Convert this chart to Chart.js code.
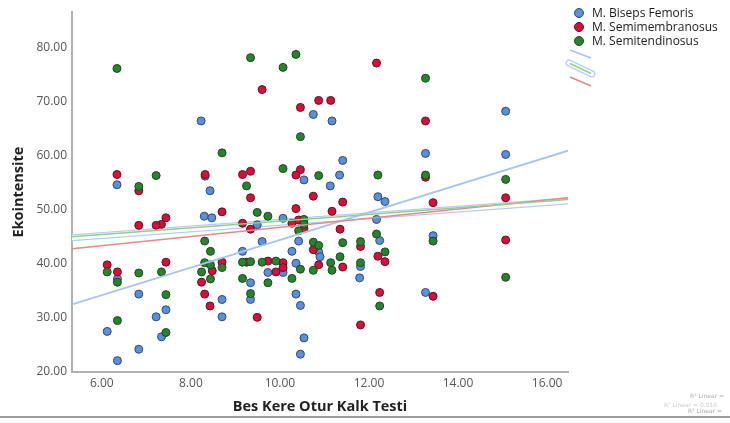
<!DOCTYPE html>
<html>
<head>
<meta charset="utf-8">
<script src="https://cdn.jsdelivr.net/npm/chart.js@4/dist/chart.umd.min.js"></script>
<style>
  body { margin: 0; background: #fff; }
  #wrap { position: relative; width: 730px; height: 416px; border-bottom: 2px solid #9c9c9c; }
  #legend { position: absolute; left: 574px; top: 6px; font: 12px "Open Sans", sans-serif; color: #1a1a1a; }
  #legend .row { height: 14px; line-height: 14px; white-space: nowrap; }
  #legend .dot { display: inline-block; width: 10px; height: 10px; border-radius: 50%; vertical-align: -1px; margin-right: 8px; box-sizing: border-box; }
  #icons { position: absolute; left: 560px; top: 44px; }
  .r2 { position: absolute; font: 6px "DejaVu Sans", sans-serif; color: #aaa; white-space: nowrap; }
</style>
</head>
<body>
<div id="wrap">
  <canvas id="chart" width="730" height="416"></canvas>
  <div id="legend"></div>
  <svg id="icons" width="40" height="48">
    <line x1="10" y1="6" x2="31" y2="14" stroke="#a9c4ec" stroke-width="1.5"/>
    <line x1="9" y1="19" x2="32" y2="30" stroke="#b7cdee" stroke-width="7" stroke-linecap="round"/>
    <line x1="9" y1="19" x2="32" y2="30" stroke="#fff" stroke-width="4.5" stroke-linecap="round"/>
    <line x1="10" y1="19.5" x2="31" y2="29.5" stroke="#8fcf8f" stroke-width="1.5"/>
    <line x1="10" y1="33" x2="31" y2="42" stroke="#e08a8a" stroke-width="1.5"/>
  </svg>
  <div class="r2" style="left:690px; top:392px;">R² Linear =</div>
  <div class="r2" style="left:664px; top:401px; color:#ccc;">R² Linear = 0.016</div>
  <div class="r2" style="left:688px; top:407px;">R² Linear =</div>
</div>
<script>
const xTicks = [6, 8, 10, 12, 14, 16];
const yTicks = [20, 30, 40, 50, 60, 70, 80];

const seriesNames = ['M. Biseps Femoris', 'M. Semimembranosus', 'M. Semitendinosus'];

// M. Biseps Femoris
const bicepsX = [8.23, 10.75, 10.54, 6.34, 8.43, 13.27, 15.07, 15.07, 11.41, 11.17, 11.34, 11.13, 8.32,
  8.30, 8.47, 10.07, 9.49, 9.60, 10.42, 9.16, 10.27, 10.87, 10.90, 6.35, 9.73, 10.07, 10.36, 9.34,
  6.83, 9.34, 8.70, 10.36, 7.44, 10.46, 7.22, 8.70, 6.12, 7.34, 6.83, 10.54, 10.46, 6.35,
  12.20, 12.36, 12.17, 12.24, 13.44, 11.81, 11.79, 13.27];
const bicepsY = [66.4, 67.6, 55.5, 54.6, 53.5, 60.4, 68.2, 60.2, 59.1, 66.4, 56.4, 54.4, 56.2,
  48.8, 48.5, 48.4, 47.2, 44.1, 44.2, 42.3, 42.3, 42.2, 41.3, 37.2, 38.4, 38.4, 40.1, 36.5,
  34.4, 33.4, 33.4, 34.4, 31.5, 32.3, 30.2, 30.2, 27.5, 26.5, 24.2, 26.3, 23.3, 22.1,
  52.4, 51.5, 48.2, 44.3, 45.2, 39.5, 37.4, 34.7];

// M. Semimembranosus
const semimemX = [9.60, 10.46, 10.87, 11.14, 12.17, 13.27, 6.34, 8.32, 9.16, 9.34, 10.46, 10.36, 6.83,
  13.27, 9.34, 10.75, 10.36, 7.44, 7.34, 7.22, 6.83, 8.70, 9.16, 9.34, 10.27, 10.42, 10.54, 10.75,
  6.12, 6.35, 7.44, 8.48, 8.70, 8.24, 9.25, 9.73, 10.07, 10.07, 9.91, 10.87, 8.31, 8.43, 9.49,
  11.41, 13.44, 15.07, 11.17, 11.35, 15.07, 11.81, 12.20, 12.36, 11.41, 12.24, 13.44, 11.81];
const semimemY = [72.2, 68.9, 70.2, 70.2, 77.1, 66.4, 56.5, 56.5, 56.5, 57.1, 57.4, 56.4, 53.5,
  56.0, 52.2, 52.5, 50.2, 48.5, 47.3, 47.1, 47.1, 49.6, 47.5, 46.4, 47.5, 48.1, 46.5, 42.6,
  39.8, 38.5, 40.3, 38.7, 40.3, 36.6, 40.3, 40.5, 40.2, 39.3, 38.5, 39.8, 34.4, 32.2, 30.1,
  51.4, 51.3, 52.2, 49.7, 46.4, 44.4, 43.2, 41.4, 40.4, 39.4, 34.7, 34.0, 28.7];

// M. Semitendinosus
const semitenX = [6.34, 9.34, 10.36, 10.07, 10.46, 8.70, 7.22, 10.07, 10.87, 6.83, 9.25, 13.27, 12.20,
  13.27, 15.07, 9.49, 9.73, 10.54, 10.54, 10.42, 8.31, 8.44, 10.75, 10.87, 6.12, 6.35, 6.83, 7.34,
  8.31, 8.44, 8.24, 8.70, 8.44, 9.16, 9.34, 9.60, 9.91, 10.46, 10.75, 9.16, 9.73, 10.27, 7.44,
  9.34, 6.35, 7.44, 12.17, 13.44, 11.41, 11.81, 12.36, 11.35, 11.14, 11.81, 11.17, 15.07, 12.24];
const semitenY = [76.1, 78.1, 78.7, 76.3, 63.5, 60.5, 56.3, 57.6, 56.3, 54.3, 54.4, 74.3, 56.4,
  56.4, 55.6, 49.5, 48.8, 48.2, 47.3, 46.1, 44.2, 42.3, 44.0, 43.4, 38.5, 36.6, 38.3, 38.5,
  40.2, 39.8, 38.5, 39.3, 37.2, 40.3, 40.4, 40.3, 40.5, 39.0, 38.8, 37.3, 36.5, 37.3, 34.3,
  34.5, 29.5, 27.3, 45.5, 44.2, 43.9, 44.1, 42.2, 41.3, 40.2, 40.2, 38.8, 37.5, 32.2];

// fit lines, values at the two ends of the x axis
const fitX = [5.33, 16.47];
const fitTotal = [44.8, 51.6];
const fitBiceps = [32.5, 60.9];
const fitSemimem = [42.8, 52.2];
const fitSemiten = [45.0, 51.9];

const pts = (xs, ys) => xs.map((x, i) => ({ x, y: ys[i] }));

const pointSet = (label, xs, ys, fill, edge, order) => ({
  type: 'scatter', label, data: pts(xs, ys),
  backgroundColor: fill, borderColor: edge, borderWidth: 1,
  pointRadius: 4, order
});

const fitSet = (ys, color, width, order) => ({
  type: 'line', label: '', data: pts(fitX, ys),
  borderColor: color, borderWidth: width, pointRadius: 0,
  borderCapStyle: 'round', tension: 0, order
});

const datasets = [
  pointSet(seriesNames[0], bicepsX, bicepsY, '#5b8fd8', '#2d4a78', 5),
  pointSet(seriesNames[1], semimemX, semimemY, '#d2123d', '#6a0c20', 4),
  pointSet(seriesNames[2], semitenX, semitenY, '#2a8231', '#194a1c', 3),
  fitSet(fitTotal, '#b7cdee', 7, 7),
  fitSet(fitTotal, '#ffffff', 4.5, 6),
  fitSet(fitSemiten, '#8fcf8f', 1.5, 0),
  fitSet(fitSemimem, '#e08a8a', 1.5, 0),
  fitSet(fitBiceps, '#a9c4ec', 1.8, 0)
];

const tickFont = { family: 'Open Sans', size: 12 };
const titleFont = { family: 'Open Sans', size: 14.5, weight: 'bold' };

new Chart(document.getElementById('chart'), {
  type: 'scatter',
  data: { datasets },
  options: {
    responsive: false,
    devicePixelRatio: 1,
    animation: false,
    layout: { padding: { top: 5, right: 162, left: 0, bottom: 0 } },
    plugins: { legend: { display: false }, tooltip: { enabled: false } },
    scales: {
      x: {
        type: 'linear', min: 5.33, max: 16.47,
        afterFit: s => { s.height = 44; },
        afterBuildTicks: s => { s.ticks = xTicks.map(v => ({ value: v })); },
        grid: { display: false, drawTicks: false },
        border: { display: true, color: '#b0b0b0', width: 2 },
        ticks: { padding: 4, color: '#555', font: tickFont, callback: v => v.toFixed(2) },
        title: { display: true, text: 'Bes Kere Otur Kalk Testi', color: '#222', font: titleFont, padding: { top: 4, bottom: 0 } }
      },
      y: {
        type: 'linear', min: 20, max: 86.5,
        afterFit: s => { s.width = 72; },
        afterBuildTicks: s => { s.ticks = yTicks.map(v => ({ value: v })); },
        grid: { display: false, drawTicks: false },
        border: { display: true, color: '#b0b0b0', width: 2 },
        ticks: { padding: 5, color: '#555', font: tickFont, callback: v => v.toFixed(2) },
        title: { display: true, text: 'Ekointensite', color: '#222', font: titleFont, padding: { top: 10, bottom: 0 } }
      }
    }
  }
});

const legendColors = [['#5b8fd8', '#2d4a78'], ['#d2123d', '#6a0c20'], ['#2a8231', '#194a1c']];
document.getElementById('legend').innerHTML = seriesNames.map((n, i) =>
  `<div class="row"><span class="dot" style="background:${legendColors[i][0]};border:1px solid ${legendColors[i][1]}"></span>${n}</div>`
).join('');
</script>
</body>
</html>
